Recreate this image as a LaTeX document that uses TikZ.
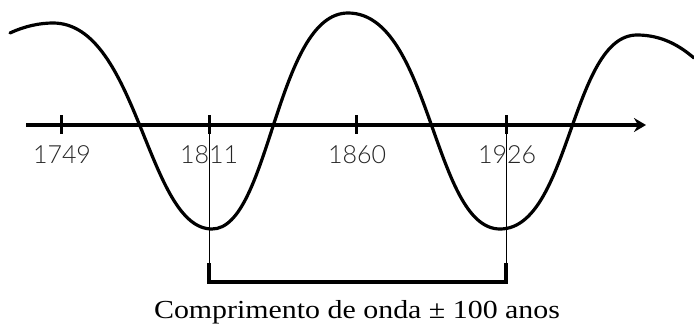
\documentclass[tikz,border=0pt]{standalone}
\usepackage{fontspec}
\usetikzlibrary{arrows.meta}
\newfontfamily\yearfont{Lato Light}
\setmainfont{Liberation Serif}
\tikzset{
  wave/.style={line width=3.2pt, line cap=round},
  axisline/.style={line width=3.8pt, -{Stealth[length=12pt,width=14pt,inset=4pt]}},
  tickmark/.style={line width=3pt},
  thinline/.style={line width=0.8pt},
  bracketline/.style={line width=3.2pt},
  yearlabel/.style={font=\yearfont\fontsize{25}{25}\selectfont, text=black!85, inner sep=0pt, anchor=base},
  caption/.style={font=\fontsize{26}{26}\selectfont, inner sep=0pt, anchor=base}
}
\begin{document}
\begin{tikzpicture}[x=1pt,y=-1pt]
\useasboundingbox (0,0) rectangle (694,327);
% axis
\coordinate (axL) at (26,125);
\coordinate (axR) at (646,125);
\draw[axisline] (axL) -- (axR);
% ticks
\foreach \n/\x in {a/61,b/209,c/356,d/506}{
  \coordinate (t\n top) at (\x,115);
  \coordinate (t\n bot) at (\x,134);
  \draw[tickmark] (t\n top) -- (t\n bot);
}
% year labels
\node[yearlabel] (y1749) at (62,163) {1749};
\node[yearlabel] (y1811) at (209,163) {1811};
\node[yearlabel] (y1860) at (357,163) {1860};
\node[yearlabel] (y1926) at (507,163) {1926};
% wave
\draw[wave] (10,33) .. controls (25,26) and (40,23) .. (53,23)
  .. controls (138,23) and (147,229) .. (212,229)
  .. controls (270,229) and (276,13) .. (348,13)
  .. controls (431,13) and (433,229) .. (500,229)
  .. controls (570,229) and (571,35) .. (637,35)
  .. controls (662,35) and (680,46) .. (694,58);
% bracket
\coordinate (b1top) at (209,125);
\coordinate (b1mid) at (209,263);
\coordinate (b1bot) at (209,282);
\coordinate (b2top) at (506,125);
\coordinate (b2mid) at (506,263);
\coordinate (b2bot) at (506,282);
\draw[thinline] (b1top) -- (b1mid);
\draw[thinline] (b2top) -- (b2mid);
\draw[bracketline] (b1mid) -- (b1bot) -- (b2bot) -- (b2mid);
% caption
\node[caption] (cap) at (357,318) {\scalebox{1.15}[1]{Comprimento de onda ± 100 anos}};
\end{tikzpicture}
\end{document}
